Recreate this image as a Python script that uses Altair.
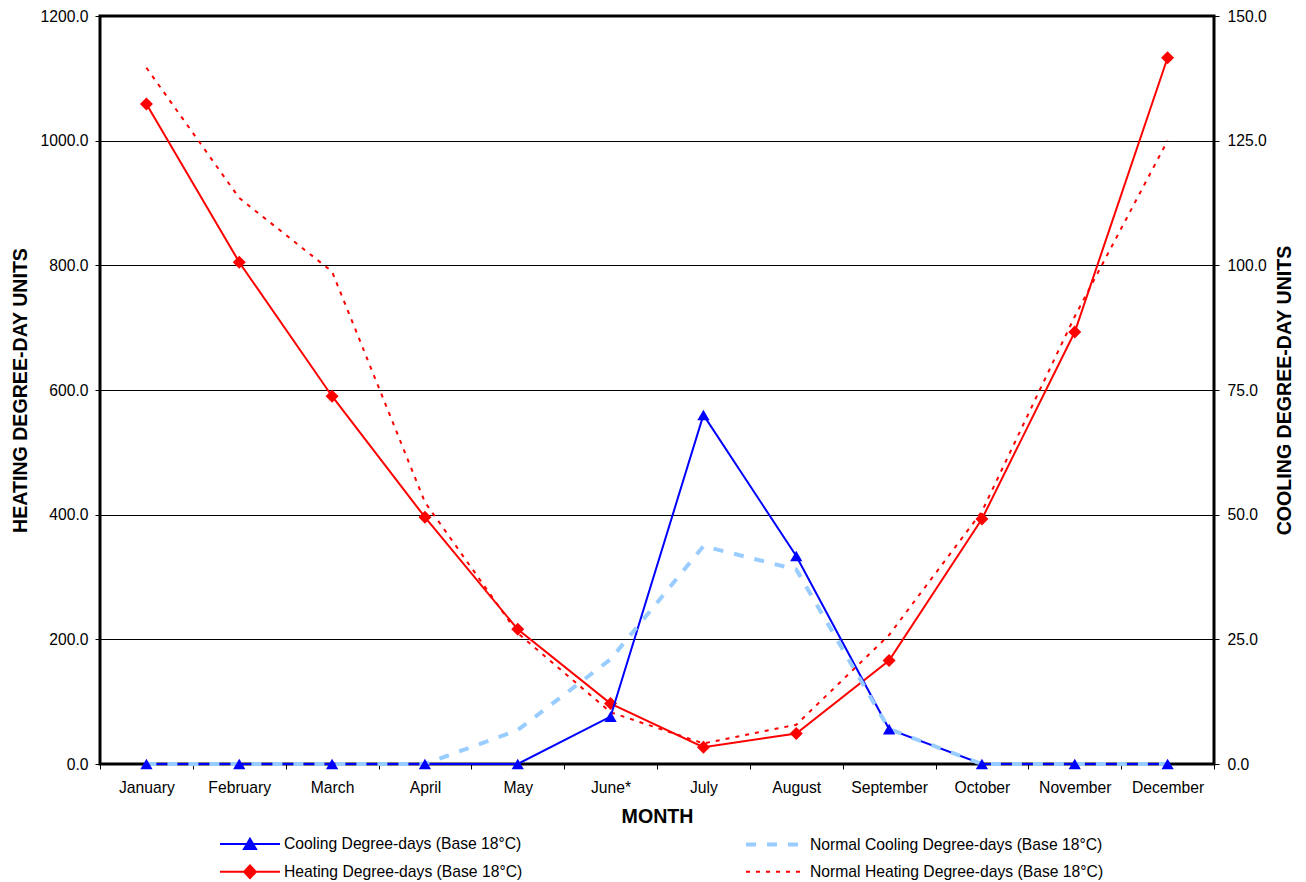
import altair as alt
import pandas as pd

months = ["January", "February", "March", "April", "May", "June*", "July",
          "August", "September", "October", "November", "December"]
heating = [1059, 805, 590, 396, 216, 97, 27, 49, 166, 393, 693, 1133]
normal_heating = [1117, 908, 790, 420, 210, 83, 33, 63, 207, 405, 718, 1000]
cooling = [0, 0, 0, 0, 0, 9.5, 70.0, 41.7, 7.0, 0, 0, 0]
normal_cooling = [0, 0, 0, 0, 6.8, 21.0, 43.7, 39.0, 7.0, 0, 0, 0]

series_names = ["Cooling Degree-days (Base 18°C)",
                "Heating Degree-days (Base 18°C)",
                "Normal Cooling Degree-days (Base 18°C)",
                "Normal Heating Degree-days (Base 18°C)"]
series_colors = ["#0000FF", "#FF0000", "#99CCFF", "#FF0000"]
series_dashes = [[1, 0], [1, 0], [10, 11], [4, 6]]
series_widths = [2, 2, 4, 2]
legend_paths = [
    "M-1,0L9,0M4,-0.85L5,0.85L3,0.85Z",
    "M-1,0L9,0M3,0L4,-1.05L5,0L4,1.05Z",
    "M-1,0L9,0",
    "M-1,0L9,0",
]
heat_ticks = [0, 200, 400, 600, 800, 1000, 1200]
cool_ticks = [0, 25, 50, 75, 100, 125, 150]

FONT = "Liberation Sans"

df = pd.DataFrame({
    "month": months,
    "heating": heating,
    "normal_heating": normal_heating,
    "cooling": cooling,
    "normal_cooling": normal_cooling,
})

x_enc = alt.X(
    "month:N", sort=months,
    scale=alt.Scale(type="band", paddingInner=0, paddingOuter=0),
    axis=alt.Axis(
        title="MONTH", labelAngle=0, tickBand="extent", tickSize=5,
        tickColor="black", domain=False, grid=False,
        labelFont=FONT, labelFontSize=15.7, labelColor="black", labelPadding=11,
        titleFont=FONT, titleFontSize=19.6, titleFontWeight="bold",
        titleColor="black", titleY=52, titleBaseline="middle",
    ),
)

left_axis = alt.Axis(
    orient="left", values=heat_ticks, format=".1f", tickSize=5,
    tickColor="black", domain=False, grid=True, gridColor="black",
    gridWidth=1, labelFont=FONT, labelFontSize=15.7, labelColor="black",
    labelPadding=7, title="HEATING DEGREE-DAY UNITS", titleFont=FONT,
    titleFontSize=19.6, titleFontWeight="bold", titleColor="black",
    titleAngle=270, titleX=-80, titleY=374, titleBaseline="middle",
    titleAlign="center",
)
right_axis = alt.Axis(
    orient="right", values=cool_ticks, format=".1f", tickSize=5,
    tickColor="black", domain=False, grid=False, labelFont=FONT,
    labelFontSize=15.7, labelColor="black", labelPadding=8,
    title="COOLING DEGREE-DAY UNITS", titleFont=FONT, titleFontSize=19.6,
    titleFontWeight="bold", titleColor="black", titleAngle=270,
    titleX=70, titleY=374, titleBaseline="middle", titleAlign="center",
)
heat_scale = alt.Scale(domain=[0, 1200], nice=False, zero=True)
cool_scale = alt.Scale(domain=[0, 150], nice=False, zero=True)

base = alt.Chart(df)

h_line = base.mark_line(color="#FF0000", strokeWidth=2).encode(
    x=x_enc, y=alt.Y("heating:Q", scale=heat_scale, axis=left_axis))
nh_line = base.mark_line(color="#FF0000", strokeWidth=2,
                         strokeDash=[4, 6]).encode(
    x=x_enc, y=alt.Y("normal_heating:Q", scale=heat_scale, axis=left_axis))
h_pts = base.mark_point(shape="diamond", filled=True, size=169, opacity=1,
                        color="#FF0000").encode(
    x=x_enc, y=alt.Y("heating:Q", scale=heat_scale, axis=left_axis))

c_line = base.mark_line(color="#0000FF", strokeWidth=2).encode(
    x=x_enc, y=alt.Y("cooling:Q", scale=cool_scale, axis=right_axis))
nc_line = base.mark_line(color="#99CCFF", strokeWidth=4,
                         strokeDash=[10, 11]).encode(
    x=x_enc, y=alt.Y("normal_cooling:Q", scale=cool_scale, axis=right_axis))
c_pts = base.mark_point(shape="triangle-up", filled=True, size=150, opacity=1,
                        color="#0000FF").encode(
    x=x_enc, y=alt.Y("cooling:Q", scale=cool_scale, axis=right_axis))

heat = alt.layer(h_line, nh_line, h_pts)
cool = alt.layer(c_line, nc_line, c_pts)

legend_obj = alt.Legend(
    title=None, orient="none", legendX=118, legendY=820, columns=2,
    symbolSize=144, labelFont=FONT, labelFontSize=15.7, labelColor="black",
    labelOffset=50, columnPadding=215, rowPadding=8, labelLimit=0, padding=0,
    symbolOpacity=1,
)
leg_df = pd.DataFrame({"series": series_names})
leg = alt.Chart(leg_df).transform_filter("false").mark_point(filled=True, opacity=1).encode(
    shape=alt.Shape("series:N", scale=alt.Scale(domain=series_names, range=legend_paths), legend=legend_obj),
    fill=alt.Fill("series:N", scale=alt.Scale(domain=series_names, range=series_colors), legend=legend_obj),
    stroke=alt.Stroke("series:N", scale=alt.Scale(domain=series_names, range=series_colors), legend=legend_obj),
    strokeDash=alt.StrokeDash("series:N", scale=alt.Scale(domain=series_names, range=series_dashes), legend=legend_obj),
    strokeWidth=alt.StrokeWidth("series:N", scale=alt.Scale(type="ordinal", domain=series_names, range=series_widths), legend=legend_obj),
)

chart = alt.layer(heat, cool, leg).resolve_scale(y="independent").properties(
    width=1114, height=748,
    autosize=alt.AutoSizeParams(type="none"),
    padding={"left": 92, "top": 8, "right": 82, "bottom": 118},
    background="white",
).configure_view(stroke="black", strokeWidth=3)

chart.save("out.html", embed_options={"renderer": "svg", "actions": False})
